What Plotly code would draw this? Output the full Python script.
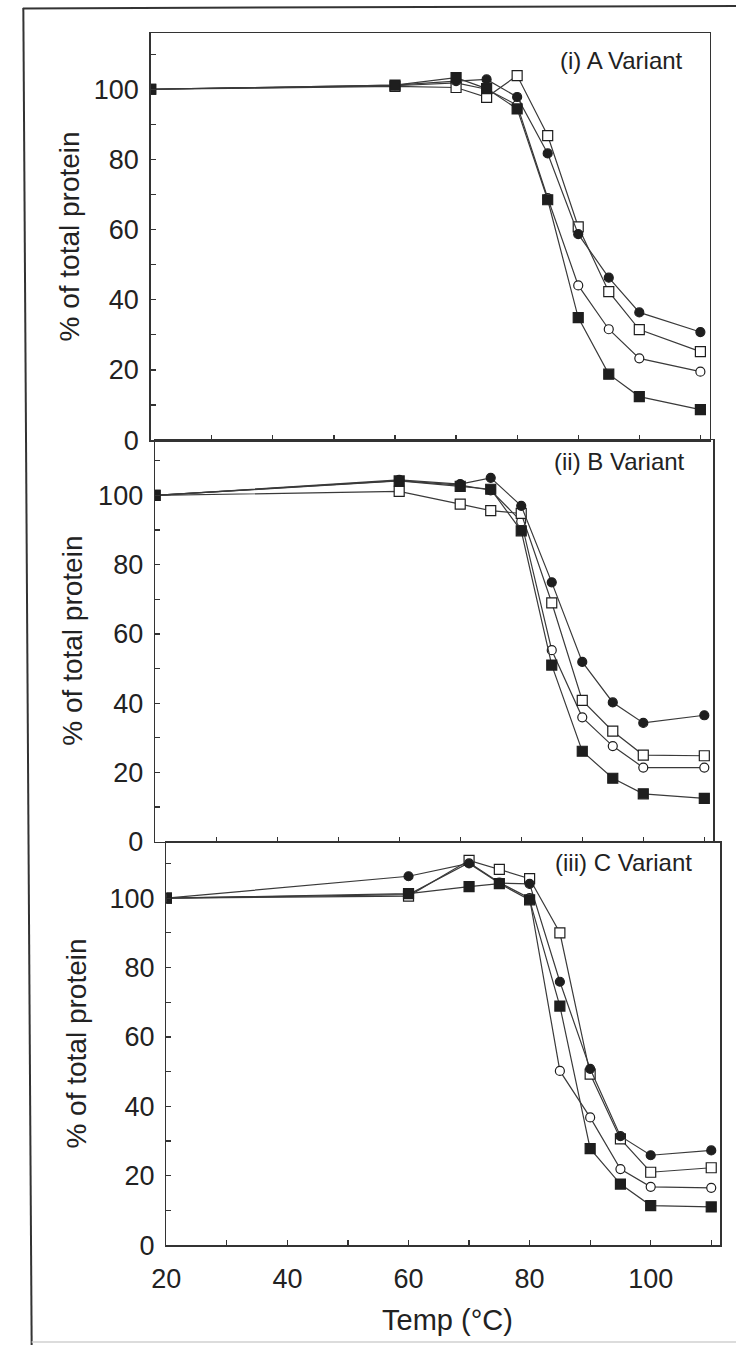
import plotly.graph_objects as go

W, H = 736, 1360

# ---------------- data ----------------
temps = [20, 60, 70, 75, 80, 85, 90, 95, 100, 110]
x_tick_vals = [20, 30, 40, 50, 60, 70, 80, 90, 100, 110]
x_tick_text = ["20", "", "40", "", "60", "", "80", "", "100", ""]
y_tick_vals = [0, 10, 20, 30, 40, 50, 60, 70, 80, 90, 100, 110]
y_tick_text = ["0", "", "20", "", "40", "", "60", "", "80", "", "100", ""]

panel_titles = ["(i) A Variant", "(ii) B Variant", "(iii) C Variant"]

# Variant A
a_open_circle = [100, 101.0, 101.8, 100.0, 95.5, 69.0, 44.1, 31.6, 23.3, 19.5]
a_open_square = [100, 100.8, 100.5, 97.7, 103.9, 86.8, 60.8, 42.3, 31.5, 25.2]
a_filled_circle = [100, 101.2, 102.3, 102.8, 97.8, 81.7, 58.7, 46.3, 36.4, 30.8]
a_filled_square = [100, 101.2, 103.3, 100.2, 94.4, 68.5, 34.9, 18.8, 12.4, 8.7]

# Variant B
b_open_circle = [100, 104.3, 103.0, 101.5, 92.5, 55.3, 35.9, 27.6, 21.4, 21.4]
b_open_square = [100, 101.2, 97.5, 95.6, 94.8, 69.0, 40.8, 31.9, 25.0, 24.8]
b_filled_circle = [100, 104.5, 103.3, 105.1, 97.0, 74.9, 51.9, 40.2, 34.3, 36.5]
b_filled_square = [100, 104.2, 102.6, 101.8, 89.8, 51.0, 26.1, 18.3, 13.8, 12.5]

# Variant C
c_open_circle = [100, 101.0, 110.2, 104.5, 100.0, 50.2, 36.8, 21.9, 16.8, 16.5]
c_open_square = [100, 100.6, 110.9, 108.3, 105.6, 90.0, 49.3, 30.6, 21.0, 22.3]
c_filled_circle = [100, 106.3, 110.0, 104.3, 104.1, 75.9, 50.8, 31.4, 25.9, 27.3]
c_filled_square = [100, 101.3, 103.3, 104.2, 99.5, 68.9, 27.8, 17.6, 11.4, 11.0]

panel_series = [
    [a_open_circle, a_open_square, a_filled_circle, a_filled_square],
    [b_open_circle, b_open_square, b_filled_circle, b_filled_square],
    [c_open_circle, c_open_square, c_filled_circle, c_filled_square],
]

# ---------------- styles ----------------
LINE = "#3a3a3a"
INK = "#1e1e1e"
FONT = "Liberation Sans, Arial, Helvetica, sans-serif"
series_styles = [
    dict(name="open circle", symbol="circle", size=9, fill="white"),
    dict(name="open square", symbol="square", size=10, fill="white"),
    dict(name="filled circle", symbol="circle", size=9, fill=INK),
    dict(name="filled square", symbol="square", size=10, fill=INK),
]

# panel geometry in pixels (left, right, top, bottom)
panel_px = [
    (138.5, 709.0, 33.5, 445.0),
    (143.0, 713.0, 445.0, 851.0),
    (154.5, 720.0, 852.0, 1259.0),
]
x_ranges = [[20, 111.5], [20, 111.5], [20, 111.5]]


def fx(px):
    return px / W


def fy(py):
    return 1 - py / H


fig = go.Figure()

for p, series in enumerate(panel_series):
    xa = "x" if p == 0 else f"x{p + 1}"
    ya = "y" if p == 0 else f"y{p + 1}"
    for vals, st in zip(series, series_styles):
        fig.add_trace(go.Scatter(
            x=temps, y=vals, mode="lines+markers", name=st["name"],
            xaxis=xa, yaxis=ya, showlegend=False,
            line=dict(color=LINE, width=1.2),
            marker=dict(symbol=st["symbol"], size=st["size"], color=st["fill"],
                        line=dict(color=INK, width=1.2)),
        ))

layout = dict(
    width=W, height=H,
    margin=dict(l=0, r=0, t=0, b=0),
    paper_bgcolor="white", plot_bgcolor="white",
    font=dict(family=FONT, color="#222", size=24),
    showlegend=False,
)

annotations = []
for p in range(3):
    l, r, t, b = panel_px[p]
    xkey = "xaxis" if p == 0 else f"xaxis{p + 1}"
    ykey = "yaxis" if p == 0 else f"yaxis{p + 1}"
    yname = "y" if p == 0 else f"y{p + 1}"
    xname = "x" if p == 0 else f"x{p + 1}"
    layout[xkey] = dict(
        domain=[fx(l), fx(r)], anchor=yname, range=x_ranges[p],
        showgrid=False, zeroline=False, showline=True, linecolor="#333",
        linewidth=1.5, mirror=True, ticks="inside", ticklen=5, tickwidth=1.2,
        tickcolor="#333", tickvals=x_tick_vals, ticktext=x_tick_text,
        showticklabels=(p == 2), tickfont=dict(size=27, family=FONT, color="#222"),
        ticklabelstandoff=9,
    )
    layout[ykey] = dict(
        domain=[fy(b), fy(t)], anchor=xname, range=[0, 116],
        showgrid=False, zeroline=False, showline=True, linecolor="#333",
        linewidth=1.5, mirror=True, ticks="inside", ticklen=5, tickwidth=1.2,
        tickcolor="#333", tickvals=y_tick_vals, ticktext=y_tick_text,
        tickfont=dict(size=27, family=FONT, color="#222"),
        ticklabelstandoff=5,
    )
    # y-axis title
    ytitle_x = [56, 59, 63][p]
    annotations.append(dict(
        x=fx(ytitle_x), y=fy((t + b) / 2), xref="paper", yref="paper",
        text="% of total protein", textangle=-90, showarrow=False,
        xanchor="center", yanchor="middle",
        font=dict(size=28, family=FONT, color="#222"),
    ))
    # panel label
    lab_right = [684, 686, 693][p]
    lab_y = [61, 466.5, 872][p]
    annotations.append(dict(
        x=fx(lab_right), y=fy(lab_y), xref="paper", yref="paper",
        text=panel_titles[p], showarrow=False, xanchor="right", yanchor="middle",
        font=dict(size=24, family=FONT, color="#222"),
    ))

annotations.append(dict(
    x=fx(442), y=fy(1335), xref="paper", yref="paper", text="Temp (°C)",
    showarrow=False, xanchor="center", yanchor="middle",
    font=dict(size=29, family=FONT, color="#222"),
))
layout["annotations"] = annotations

# outer frame of the scanned figure
layout["shapes"] = [
    dict(type="line", xref="paper", yref="paper", x0=fx(8), y0=fy(8.5), x1=fx(736), y1=fy(6),
         line=dict(color="#333", width=2)),
    dict(type="line", xref="paper", yref="paper", x0=fx(8.5), y0=fy(8), x1=fx(17), y1=fy(1360),
         line=dict(color="#333", width=2)),
    dict(type="line", xref="paper", yref="paper", x0=fx(17), y0=fy(1357), x1=fx(736), y1=fy(1357),
         line=dict(color="#d0d0d0", width=1.5)),
]

fig.update_layout(**layout)
fig.write_html(
    "out.html",
    config={"displayModeBar": False, "staticPlot": True},
    post_script="document.body.style.margin='0';document.body.style.overflow='hidden';",
)
